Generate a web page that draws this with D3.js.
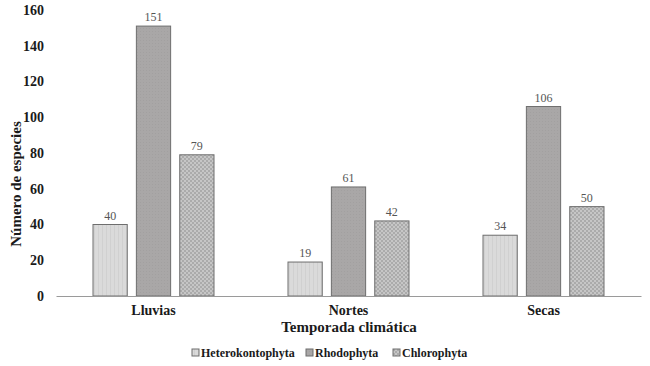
<!DOCTYPE html>
<html>
<head>
<meta charset="utf-8">
<script src="https://cdn.jsdelivr.net/npm/d3@7"></script>
<style>
  body { margin: 0; background: #fff; }
  svg text { font-family: "Liberation Serif", "DejaVu Serif", serif; }
</style>
</head>
<body>
<div class="chart"></div>
<script>
// data
const seasons = ['Lluvias', 'Nortes', 'Secas']
const groups = ['Heterokontophyta', 'Rhodophyta', 'Chlorophyta']
const heterokontophyta = [40, 19, 34]
const rhodophyta = [151, 61, 106]
const chlorophyta = [79, 42, 50]
const yTicks = [0, 20, 40, 60, 80, 100, 120, 140, 160]

const series = [heterokontophyta, rhodophyta, chlorophyta]

const W = 650, H = 366
const margin = { top: 10, right: 9, bottom: 70, left: 56 }
const width = W - margin.left - margin.right
const height = H - margin.top - margin.bottom

const svg = d3.select('.chart')
  .append('svg')
    .attr('width', W)
    .attr('height', H)

// textures for the three bar fills
const defs = svg.append('defs')
const p1 = defs.append('pattern').attr('id', 'pat0')
  .attr('patternUnits', 'userSpaceOnUse').attr('width', 4).attr('height', 4)
p1.append('rect').attr('width', 4).attr('height', 4).attr('fill', '#dadada')
p1.append('rect').attr('x', 2).attr('width', 1).attr('height', 4).attr('fill', '#d0d0d0')

const p2 = defs.append('pattern').attr('id', 'pat1')
  .attr('patternUnits', 'userSpaceOnUse').attr('width', 3).attr('height', 3)
p2.append('rect').attr('width', 3).attr('height', 3).attr('fill', '#a9a7a7')
p2.append('rect').attr('width', 1).attr('height', 1).attr('fill', '#a2a0a0')

const p3 = defs.append('pattern').attr('id', 'pat2')
  .attr('patternUnits', 'userSpaceOnUse').attr('width', 4).attr('height', 4)
p3.append('rect').attr('width', 4).attr('height', 4).attr('fill', '#c6c6c6')
p3.append('rect').attr('width', 2).attr('height', 2).attr('fill', '#ababab')
p3.append('rect').attr('x', 2).attr('y', 2).attr('width', 2).attr('height', 2).attr('fill', '#ababab')

const g = svg.append('g')
  .attr('transform', `translate(${margin.left}, ${margin.top})`)

const x0 = d3.scaleBand()
  .domain(seasons)
  .range([0, width])

const x1 = d3.scaleBand()
  .domain(groups)
  .range([37, x0.bandwidth() - 37])
  .paddingInner(0.21)

const y = d3.scaleLinear()
  .domain([0, 160])
  .range([height, 0])

// y axis: labels only
const yAxis = g.append('g')
  .call(d3.axisLeft(y).tickValues(yTicks).tickSize(0).tickPadding(12))
yAxis.select('.domain').remove()
yAxis.selectAll('text')
  .attr('font-size', 14).attr('font-weight', 'bold').attr('fill', '#1a1a1a')
  .style('font-family', '"Liberation Serif", serif')

// bars
const seasonG = g.selectAll('.season')
  .data(seasons)
  .join('g')
    .attr('class', 'season')
    .attr('transform', d => `translate(${x0(d)}, 0)`)

seasonG.selectAll('rect')
  .data((s, i) => groups.map((grp, k) => ({ grp, k, v: series[k][i] })))
  .join('rect')
    .attr('x', d => x1(d.grp))
    .attr('y', d => y(d.v))
    .attr('width', x1.bandwidth())
    .attr('height', d => height - y(d.v))
    .attr('fill', d => `url(#pat${d.k})`)
    .attr('stroke', '#6e6e6e')
    .attr('stroke-width', 1)

seasonG.selectAll('text.val')
  .data((s, i) => groups.map((grp, k) => ({ grp, k, v: series[k][i] })))
  .join('text')
    .attr('class', 'val')
    .attr('x', d => x1(d.grp) + x1.bandwidth() / 2)
    .attr('y', d => y(d.v) - 5)
    .attr('text-anchor', 'middle')
    .attr('font-size', 12)
    .attr('fill', '#555')
    .text(d => d.v)

// x axis
const xAxis = g.append('g')
  .attr('transform', `translate(0, ${height})`)
  .call(d3.axisBottom(x0).tickSize(0).tickPadding(9))
xAxis.select('.domain').attr('stroke', '#9a9a9a')
xAxis.selectAll('text')
  .attr('font-size', 14).attr('font-weight', 'bold').attr('fill', '#1a1a1a')
  .style('font-family', '"Liberation Serif", serif')

// titles
svg.append('text')
  .attr('x', 349).attr('y', 332)
  .attr('text-anchor', 'middle')
  .attr('font-size', 15).attr('font-weight', 'bold').attr('fill', '#1a1a1a')
  .text('Temporada climática')

svg.append('text')
  .attr('transform', 'translate(21, 184) rotate(-90)')
  .attr('text-anchor', 'middle')
  .attr('font-size', 15).attr('font-weight', 'bold').attr('fill', '#1a1a1a')
  .text('Número de especies')

// legend
const legendX = [192, 306, 393]
const legend = svg.selectAll('.legend')
  .data(groups)
  .join('g')
    .attr('class', 'legend')
    .attr('transform', (d, i) => `translate(${legendX[i]}, 357)`)
legend.append('rect')
  .attr('x', 0).attr('y', -8).attr('width', 7).attr('height', 7)
  .attr('fill', (d, i) => `url(#pat${i})`)
  .attr('stroke', '#6e6e6e')
legend.append('text')
  .attr('x', 9).attr('y', 0)
  .attr('font-size', 12).attr('font-weight', 'bold').attr('fill', '#1a1a1a')
  .text(d => d)
</script>
</body>
</html>
